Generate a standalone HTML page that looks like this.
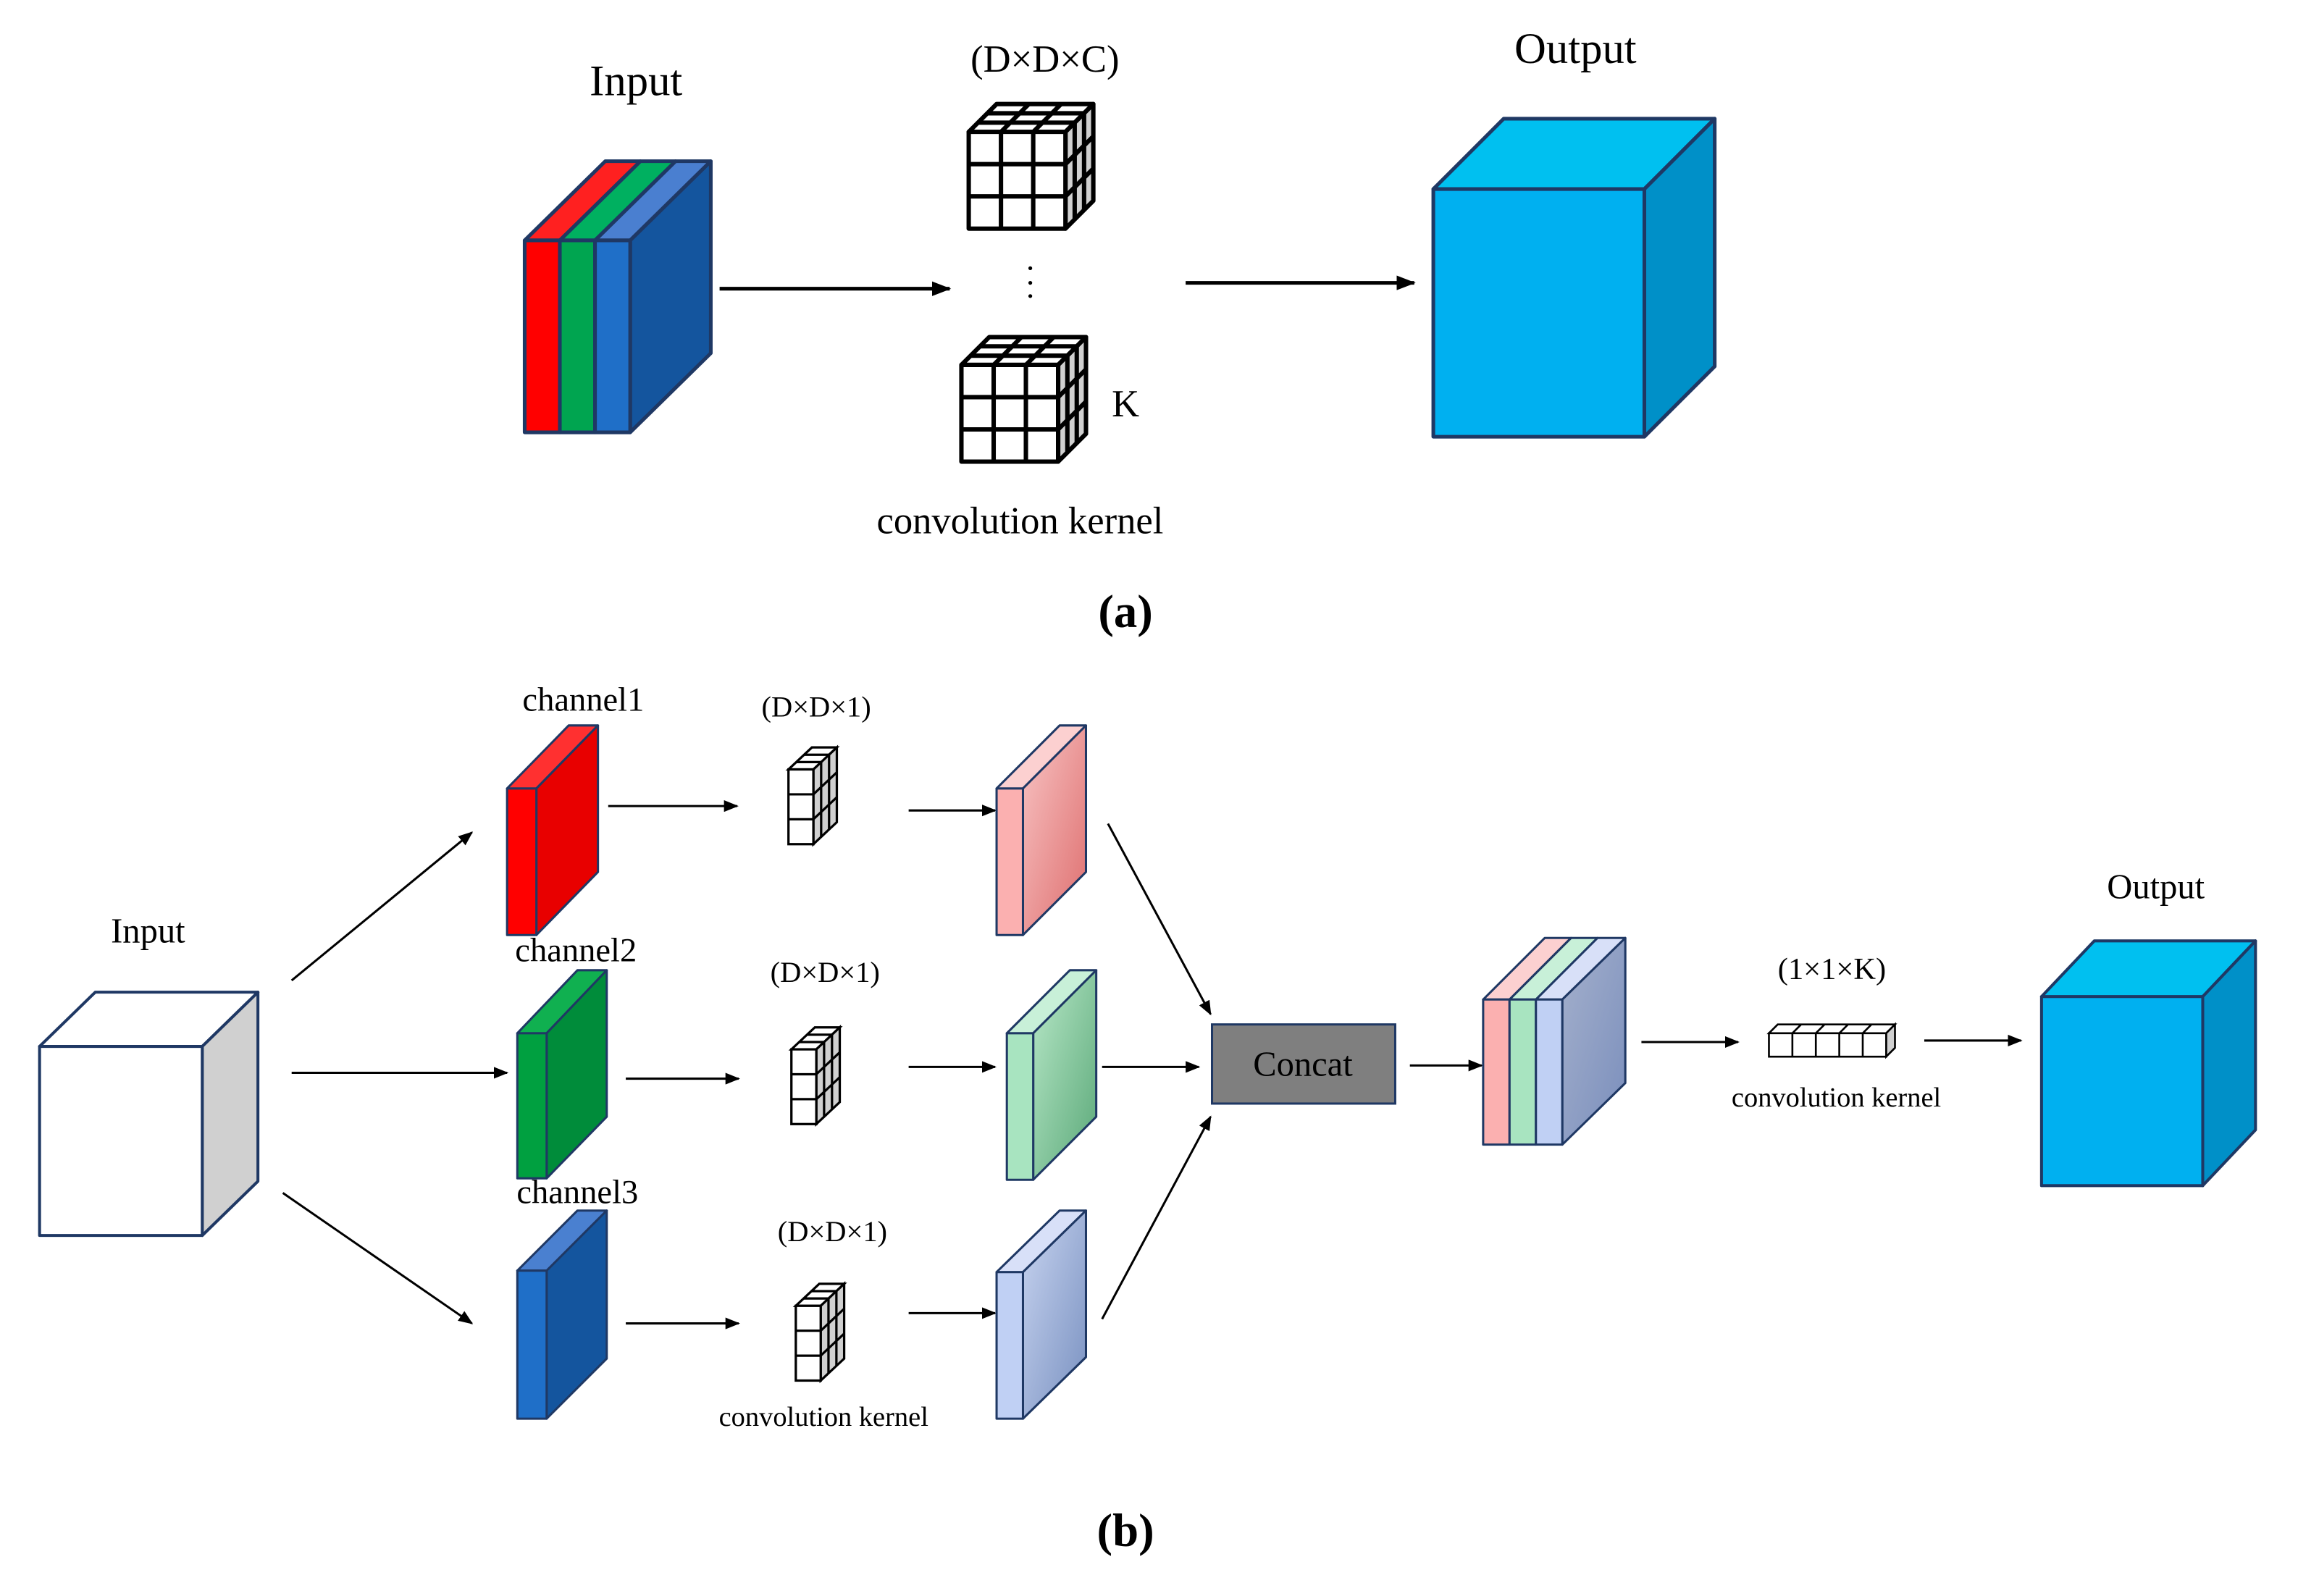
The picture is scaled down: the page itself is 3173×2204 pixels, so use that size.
<!DOCTYPE html>
<html><head><meta charset="utf-8"><style>html,body{margin:0;padding:0;background:#fff}svg{display:block}svg,text{font-family:"Liberation Serif","DejaVu Serif",serif}</style></head>
<body>
<svg width="3173" height="2204" viewBox="0 0 1568 1089" preserveAspectRatio="none" xmlns="http://www.w3.org/2000/svg">
<defs>
<marker id="ah" markerWidth="10" markerHeight="8" refX="9" refY="4" orient="auto" markerUnits="userSpaceOnUse"><path d="M0,0 L10,4 L0,8 z" fill="#000"/></marker>
<marker id="ah2" markerWidth="13" markerHeight="10" refX="12" refY="5" orient="auto" markerUnits="userSpaceOnUse"><path d="M0,0 L13,5 L0,10 z" fill="#000"/></marker>
<g id="k3" stroke="#000" stroke-width="3" fill="#fff" stroke-linejoin="round">
<path d="M0,0 L66,0 L85,-19 L19,-19 Z"/>
<path d="M66,0 L85,-19 L85,47 L66,66 Z" fill="#d0d0d0"/>
<rect x="0" y="0" width="66" height="66"/>
<path d="M22,0V66M44,0V66M0,22H66M0,44H66M22,0L41,-19M44,0L63,-19M6.3,-6.3H72.3M12.7,-12.7H78.7M72.3,-6.3V59.7M78.7,-12.7V53.3M66,22L85,3M66,44L85,25" fill="none"/>
</g>
<g id="k1" stroke="#000" stroke-width="1.6" fill="#fff">
<path d="M0,0 L17,0 L33,-15 L16,-15 Z"/>
<path d="M17,0 L33,-15 L33,36 L17,51 Z" fill="#d0d0d0"/>
<rect x="0" y="0" width="17" height="51"/>
<path d="M0,17H17M0,34H17M5.3,-5H22.3M10.7,-10H27.7M22.3,-5V46M27.7,-10V41M17,17L33,2M17,34L33,19" fill="none"/>
</g>
<linearGradient id="gp" x1="0" y1="0" x2="1" y2="1"><stop offset="0" stop-color="#f8c4c4"/><stop offset="1" stop-color="#de6e6e"/></linearGradient>
<linearGradient id="gg" x1="0" y1="0" x2="1" y2="1"><stop offset="0" stop-color="#b8e8c8"/><stop offset="1" stop-color="#5aa878"/></linearGradient>
<linearGradient id="gb" x1="0" y1="0" x2="1" y2="1"><stop offset="0" stop-color="#c8d4f0"/><stop offset="1" stop-color="#7890c0"/></linearGradient>
<linearGradient id="gs" x1="0" y1="0" x2="1" y2="1"><stop offset="0" stop-color="#a4b0cc"/><stop offset="1" stop-color="#7a8ebc"/></linearGradient>
</defs>

<!-- (a) -->
<text x="434" y="65" font-size="30" text-anchor="middle">Input</text>
<g stroke="#1f3864" stroke-width="2.5" stroke-linejoin="round">
<path d="M358,164 L382,164 L437,110 L413,110 Z" fill="#ff2020"/>
<path d="M382,164 L406,164 L461,110 L437,110 Z" fill="#00b060"/>
<path d="M406,164 L430,164 L485,110 L461,110 Z" fill="#4a7fd0"/>
<path d="M430,164 L485,110 L485,241 L430,295 Z" fill="#14559e"/>
<rect x="358" y="164" width="24" height="131" fill="#ff0000"/>
<rect x="382" y="164" width="24" height="131" fill="#00a550"/>
<rect x="406" y="164" width="24" height="131" fill="#1f6fc8"/>
</g>
<line x1="491" y1="197" x2="648" y2="197" stroke="#000" stroke-width="2.5" marker-end="url(#ah2)"/>
<text x="713" y="49" font-size="26" text-anchor="middle">(D×D×C)</text>
<use href="#k3" x="661" y="90"/>
<g fill="#000"><circle cx="703" cy="183" r="1.3"/><circle cx="703" cy="193" r="1.3"/><circle cx="703" cy="202" r="1.3"/></g>
<use href="#k3" x="656" y="249"/>
<text x="768" y="284" font-size="26" text-anchor="middle">K</text>
<text x="696" y="364" font-size="26" text-anchor="middle">convolution kernel</text>
<line x1="809" y1="193" x2="965" y2="193" stroke="#000" stroke-width="2.5" marker-end="url(#ah2)"/>
<text x="1075" y="43" font-size="30" text-anchor="middle">Output</text>
<g stroke="#1f3864" stroke-width="2.5" stroke-linejoin="round">
<path d="M978,129 L1122,129 L1170,81 L1026,81 Z" fill="#00c0f0"/>
<path d="M1122,129 L1170,81 L1170,250 L1122,298 Z" fill="#0090c8"/>
<rect x="978" y="129" width="144" height="169" fill="#00b0f0"/>
</g>
<text x="768" y="428" font-size="32" font-weight="bold" text-anchor="middle">(a)</text>

<!-- (b) -->
<text x="101" y="643" font-size="24" text-anchor="middle">Input</text>
<g stroke="#1f3864" stroke-width="2" stroke-linejoin="round">
<path d="M27,714 L138,714 L176,677 L65,677 Z" fill="#fff"/>
<path d="M138,714 L176,677 L176,806 L138,843 Z" fill="#d0d0d0"/>
<rect x="27" y="714" width="111" height="129" fill="#fff"/>
</g>
<g stroke="#000" stroke-width="1.5" fill="none" marker-end="url(#ah)">
<line x1="199" y1="669" x2="322" y2="568"/>
<line x1="199" y1="732" x2="346" y2="732"/>
<line x1="193" y1="814" x2="322" y2="903"/>
<line x1="415" y1="550" x2="503" y2="550"/>
<line x1="427" y1="736" x2="504" y2="736"/>
<line x1="427" y1="903" x2="504" y2="903"/>
<line x1="620" y1="553" x2="679" y2="553"/>
<line x1="620" y1="728" x2="679" y2="728"/>
<line x1="620" y1="896" x2="679" y2="896"/>
<line x1="756" y1="562" x2="826" y2="692"/>
<line x1="752" y1="728" x2="818" y2="728"/>
<line x1="752" y1="900" x2="826" y2="762"/>
<line x1="962" y1="727" x2="1011" y2="727"/>
<line x1="1120" y1="711" x2="1186" y2="711"/>
<line x1="1313" y1="710" x2="1379" y2="710"/>
</g>

<text x="398" y="485" font-size="23" text-anchor="middle">channel1</text>
<text x="393" y="656" font-size="23" text-anchor="middle">channel2</text>
<text x="394" y="821" font-size="23" text-anchor="middle">channel3</text>
<g stroke="#1f3864" stroke-width="1.5" stroke-linejoin="round">
<path d="M346,538 L366,538 L408,495 L388,495 Z" fill="#ff3030"/>
<path d="M366,538 L408,495 L408,595 L366,638 Z" fill="#e80000"/>
<rect x="346" y="538" width="20" height="100" fill="#ff0000"/>
<path d="M353,705 L373,705 L414,662 L394,662 Z" fill="#10b050"/>
<path d="M373,705 L414,662 L414,762 L373,804 Z" fill="#008c3a"/>
<rect x="353" y="705" width="20" height="99" fill="#00a040"/>
<path d="M353,867 L373,867 L414,826 L394,826 Z" fill="#4a80d0"/>
<path d="M373,867 L414,826 L414,927 L373,968 Z" fill="#14559e"/>
<rect x="353" y="867" width="20" height="101" fill="#1f6fc8"/>

<path d="M680,538 L698,538 L741,495 L723,495 Z" fill="#fcd0d0"/>
<path d="M698,538 L741,495 L741,595 L698,638 Z" fill="url(#gp)"/>
<rect x="680" y="538" width="18" height="100" fill="#fbb0b0"/>
<path d="M687,705 L705,705 L748,662 L730,662 Z" fill="#c8f0d8"/>
<path d="M705,705 L748,662 L748,762 L705,805 Z" fill="url(#gg)"/>
<rect x="687" y="705" width="18" height="100" fill="#a8e4c0"/>
<path d="M680,868 L698,868 L741,826 L723,826 Z" fill="#d8e0f8"/>
<path d="M698,868 L741,826 L741,926 L698,968 Z" fill="url(#gb)"/>
<rect x="680" y="868" width="18" height="100" fill="#c0d0f4"/>
</g>

<text x="557" y="489" font-size="20" text-anchor="middle">(D×D×1)</text>
<text x="563" y="670" font-size="20" text-anchor="middle">(D×D×1)</text>
<text x="568" y="847" font-size="20" text-anchor="middle">(D×D×1)</text>
<use href="#k1" x="538" y="525"/>
<use href="#k1" x="540" y="716"/>
<use href="#k1" x="543" y="891"/>
<text x="562" y="973" font-size="19" text-anchor="middle">convolution kernel</text>

<rect x="827" y="699" width="125" height="54" fill="#7f7f7f" stroke="#1f3864" stroke-width="1.5"/>
<text x="889" y="734" font-size="24" text-anchor="middle">Concat</text>

<g stroke="#1f3864" stroke-width="1.5" stroke-linejoin="round">
<path d="M1012,682 L1030,682 L1072,640 L1054,640 Z" fill="#fcd0d0"/>
<path d="M1030,682 L1048,682 L1090,640 L1072,640 Z" fill="#c8f0d8"/>
<path d="M1048,682 L1066,682 L1109,640 L1090,640 Z" fill="#d8e0f8"/>
<path d="M1066,682 L1109,640 L1109,739 L1066,781 Z" fill="url(#gs)"/>
<rect x="1012" y="682" width="18" height="99" fill="#fbb0b0"/>
<rect x="1030" y="682" width="18" height="99" fill="#a8e4c0"/>
<rect x="1048" y="682" width="18" height="99" fill="#c0d0f4"/>
</g>

<text x="1250" y="668" font-size="21" text-anchor="middle">(1×1×K)</text>
<g stroke="#000" stroke-width="1.3" fill="#fff">
<path d="M1207,705 L1287,705 L1293,699 L1213,699 Z"/>
<path d="M1287,705 L1293,699 L1293,715 L1287,721 Z" fill="#d0d0d0"/>
<rect x="1207" y="705" width="80" height="16"/>
<path d="M1223,705V721M1239,705V721M1255,705V721M1271,705V721M1223,705L1229,699M1239,705L1245,699M1255,705L1261,699M1271,705L1277,699" fill="none"/>
</g>
<text x="1253" y="755" font-size="19" text-anchor="middle">convolution kernel</text>

<text x="1471" y="613" font-size="24" text-anchor="middle">Output</text>
<g stroke="#1f3864" stroke-width="2" stroke-linejoin="round">
<path d="M1393,680 L1503,680 L1539,642 L1429,642 Z" fill="#00c0f0"/>
<path d="M1503,680 L1539,642 L1539,771 L1503,809 Z" fill="#0090c8"/>
<rect x="1393" y="680" width="110" height="129" fill="#00b0f0"/>
</g>
<text x="768" y="1055" font-size="32" font-weight="bold" text-anchor="middle">(b)</text>
</svg>
</body></html>
